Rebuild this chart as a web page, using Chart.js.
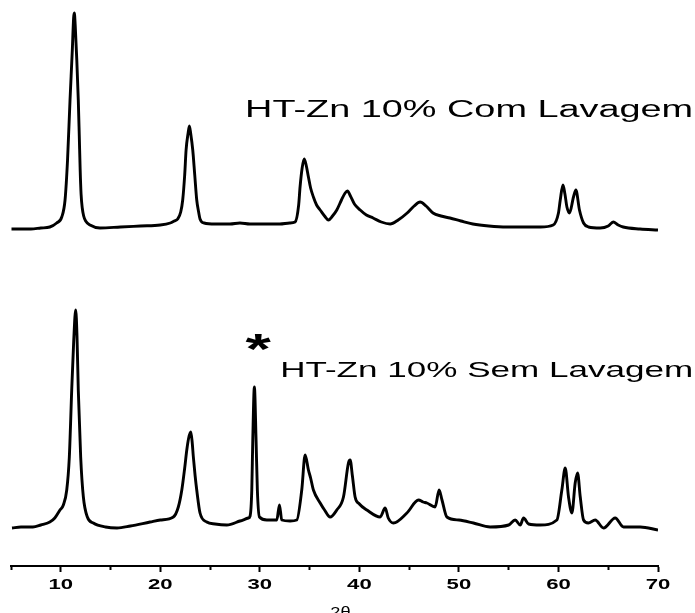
<!DOCTYPE html>
<html><head><meta charset="utf-8">
<script src="https://cdn.jsdelivr.net/npm/chart.js@4.4.0/dist/chart.umd.min.js"></script>
<style>html,body{margin:0;padding:0;background:#fff;overflow:hidden}#wrap{position:relative;width:695px;height:613px}</style>
</head><body><div id="wrap"><canvas id="c" width="695" height="613"></canvas></div>
<script>
// ---- data (2θ in degrees, intensity in arbitrary units) ----
const comTheta = [5.05,6.0,7.0,8.0,8.9,9.59,10.1,10.43,10.68,10.93,11.16,11.29,11.36,11.45,11.61,11.76,11.86,11.95,12.04,12.16,12.3,12.5,12.94,13.94,16.0,18.0,20.0,21.0,21.4,21.75,22.05,22.25,22.45,22.59,22.78,22.92,23.06,23.26,23.46,23.66,23.85,23.99,24.4,25.5,27.0,28.0,29.0,30.0,31.0,32.0,33.0,33.54,33.9,34.04,34.25,34.45,34.65,34.88,35.1,35.38,35.7,36.06,36.5,36.89,37.3,37.73,38.2,38.57,38.8,39.1,39.5,40.08,40.7,41.38,42.2,43.09,43.9,44.8,45.5,46.1,46.7,47.4,48.2,49.1,50.2,51.4,53.0,54.8,56.5,58.2,59.47,60.0,60.18,60.45,60.65,60.85,61.11,61.51,61.75,62.11,62.52,63.02,64.2,65.0,65.5,66.0,66.5,68.2,70.0];
const comIntensity = [337,337,337,338,339,343,349,366,406,466,516,548,553,541,506,466,430,396,372,358,350,345,341,338,339,340,341,343,345,347,354,366,391,416,432,440,432,416,391,366,354,347,343,342,342,343,342,342,342,342,343,344,361,379,398,407,401,389,378,369,361,356,350,346,350,356,366,373,375,370,362,356,351,348,344,342,346,353,360,364,360,353,350,348,345,342,340,339,339,339,341,353,366,381,372,359,353,369,376,356,343,339,338,340,344,341,339,337,336];
const semTheta = [5.1,6.0,7.2,8.0,8.9,9.4,9.92,10.26,10.6,10.86,11.1,11.3,11.5,11.63,11.76,12.0,12.27,12.67,13.27,14.5,15.65,17.0,18.97,20.0,21.31,21.81,22.16,22.45,22.66,22.85,23.06,23.2,23.32,23.5,23.66,23.99,24.67,25.5,26.68,28.0,28.85,29.02,29.19,29.29,29.45,29.62,29.75,29.96,30.7,31.7,31.97,32.2,33.04,33.71,34.21,34.55,34.88,35.1,35.38,36.06,36.5,37.06,37.73,38.4,38.9,39.07,39.3,39.57,40.0,40.75,42.09,42.59,42.9,43.42,44.77,45.94,46.4,46.78,47.61,48.01,48.3,48.79,50.0,51.46,53.14,55.0,55.65,56.16,56.49,57.0,58.17,59.84,60.34,60.68,61.01,61.35,61.68,61.92,62.19,62.52,63.0,63.69,64.53,65.7,66.54,68.22,70.0];
const semIntensity = [38,39,39,41,44,48,56,61,76,109,176,225,256,230,176,109,69,49,43,39,38,40,44,46,49,59,76,98,116,128,134,124,109,90,76,53,44,42,41,45,48,50,76,126,179,126,76,49,46,46,61,46,45,46,76,111,96,88,76,63,56,49,56,69,103,106,90,69,62,56,49,58,48,43,53,66,64,63,59,76,66,49,46,43,39,41,46,41,48,42,41,46,76,98,69,53,83,93,69,46,43,46,38,48,39,39,36];
const seriesNames = ['HT-Zn 10% Com Lavagem', 'HT-Zn 10% Sem Lavagem'];
const xTickValues = [10, 20, 30, 40, 50, 60, 70];
const xTickLabels = ['10', '20', '30', '40', '50', '60', '70'];
const xAxisTitle = '2θ';
const peakMarker = '*';

// ---- layout / style (not data) ----
const FONT = '"Liberation Sans", Arial, Helvetica, sans-serif';
const labelPlacement = [
  {x: 28.52, y: 449, size: 23, width: 448},
  {x: 32.04, y: 189, size: 22, width: 413}
];
const markerPlacement = {x: 29.82, y: 203, size: 42, sx: 1.55};

function stretchedText(ctx, text, x, y, font, sx, align) {
  ctx.save();
  ctx.font = font;
  ctx.textBaseline = 'alphabetic';
  ctx.textAlign = 'left';
  const w = ctx.measureText(text).width * sx;
  const left = align === 'center' ? x - w / 2 : (align === 'right' ? x - w : x);
  ctx.translate(left, y);
  ctx.scale(sx, 1);
  ctx.fillStyle = '#000';
  ctx.fillText(text, 0, 0);
  ctx.restore();
}

const textPlugin = {
  id: 'texts',
  afterDraw(chart) {
    const ctx = chart.ctx, xs = chart.scales.x, ys = chart.scales.y;
    xTickValues.forEach((v, i) => {
      stretchedText(ctx, xTickLabels[i], xs.getPixelForValue(v), xs.top + 23, 'bold 14px ' + FONT, 1.58, 'center');
    });
    stretchedText(ctx, xAxisTitle, xs.getPixelForValue(38.1), xs.top + 51, '14px ' + FONT, 1.3, 'center');
    seriesNames.forEach((name, i) => {
      const p = labelPlacement[i];
      ctx.save();
      ctx.font = p.size + 'px ' + FONT;
      const sx = p.width / ctx.measureText(name).width;
      ctx.restore();
      stretchedText(ctx, name, xs.getPixelForValue(p.x), ys.getPixelForValue(p.y), p.size + 'px ' + FONT, sx, 'left');
    });
    stretchedText(ctx, peakMarker, xs.getPixelForValue(markerPlacement.x), ys.getPixelForValue(markerPlacement.y),
      'bold ' + markerPlacement.size + 'px ' + FONT, markerPlacement.sx, 'center');
  }
};

const toXY = (xs, ys) => xs.map((x, i) => ({x: x, y: ys[i]}));

new Chart(document.getElementById('c'), {
  type: 'line',
  data: {
    datasets: [
      {label: seriesNames[0], data: toXY(comTheta, comIntensity), borderColor: '#000', borderWidth: 2.9, pointRadius: 0, cubicInterpolationMode: 'monotone', fill: false},
      {label: seriesNames[1], data: toXY(semTheta, semIntensity), borderColor: '#000', borderWidth: 2.9, pointRadius: 0, cubicInterpolationMode: 'monotone', fill: false}
    ]
  },
  options: {
    responsive: false,
    devicePixelRatio: 1,
    animation: false,
    events: [],
    layout: {padding: {left: 11, right: 37, top: 0, bottom: 41}},
    plugins: {legend: {display: false}, tooltip: {enabled: false}, title: {display: false}},
    scales: {
      x: {
        type: 'linear', min: 5, max: 70,
        ticks: {display: false, stepSize: 5},
        grid: {
          drawOnChartArea: false, drawTicks: true, tickLength: 6, tickWidth: 2, tickColor: '#000',
          tickBorderDash: (c) => (c.tick && c.tick.value % 10 === 0) ? [] : [3, 20]
        },
        border: {display: true, color: '#000', width: 2}
      },
      y: {display: false, min: 0, max: 566}
    }
  },
  plugins: [textPlugin]
});
</script>
</body></html>
